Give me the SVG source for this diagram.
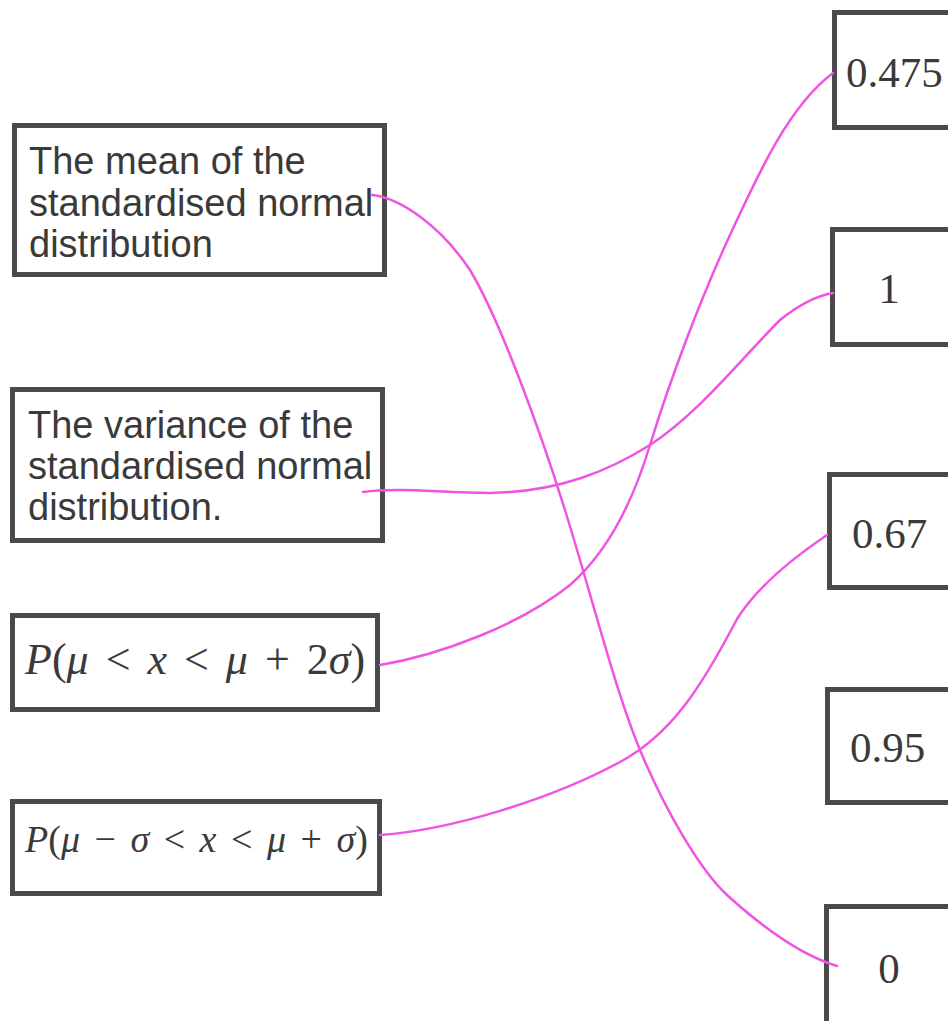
<svg xmlns="http://www.w3.org/2000/svg" width="948" height="1021" viewBox="0 0 948 1021">
<style>
.box{fill:#fff;stroke:#4a4a4a;stroke-width:5}
.lt{font-family:"Liberation Sans",Arial,sans-serif;font-size:38px;fill:#3a3a3a}
.mt{font-family:"Liberation Serif","Times New Roman",serif;fill:#3a3a3a}
.rt{font-family:"Liberation Serif","Times New Roman",serif;font-size:43px;fill:#3a3a3a}
.i{font-style:italic}
.c{fill:none;stroke:#ef55e2;stroke-width:2.5;stroke-linecap:round}
</style>
<rect width="948" height="1021" fill="#fff"/>
<g id="n-mean">
<rect class="box" x="14.5" y="125.5" width="370" height="149"/>
<text class="lt" x="29" y="174">The mean of the</text>
<text class="lt" x="29" y="216">standardised normal</text>
<text class="lt" x="29" y="257">distribution</text>
</g>
<g id="n-variance">
<rect class="box" x="12.5" y="389.5" width="370" height="151"/>
<text class="lt" x="28" y="438">The variance of the</text>
<text class="lt" x="28" y="479">standardised normal</text>
<text class="lt" x="28" y="520">distribution.</text>
</g>
<g id="n-p2sigma">
<rect class="box" x="12.5" y="615.5" width="365" height="94"/>
<text class="mt" x="25" y="674" font-size="44" word-spacing="6"><tspan class="i">P</tspan>(<tspan class="i">μ</tspan> &lt; <tspan class="i">x</tspan> &lt; <tspan class="i">μ</tspan> + 2<tspan class="i">σ</tspan>)</text>
</g>
<g id="n-p1sigma">
<rect class="box" x="12.5" y="801.5" width="367" height="92"/>
<text class="mt" x="25" y="852" font-size="38" word-spacing="5"><tspan class="i">P</tspan>(<tspan class="i">μ</tspan> − <tspan class="i">σ</tspan> &lt; <tspan class="i">x</tspan> &lt; <tspan class="i">μ</tspan> + <tspan class="i">σ</tspan>)</text>
</g>
<g id="n-0475">
<rect class="box" x="834.5" y="12.5" width="140" height="115"/>
<text class="rt" x="846" y="87">0.475</text>
</g>
<g id="n-1">
<rect class="box" x="832.5" y="229.5" width="140" height="115"/>
<text class="rt" x="889" y="303" text-anchor="middle">1</text>
</g>
<g id="n-067">
<rect class="box" x="829.5" y="474.5" width="140" height="113"/>
<text class="rt" x="852" y="548">0.67</text>
</g>
<g id="n-095">
<rect class="box" x="827.5" y="689.5" width="140" height="113"/>
<text class="rt" x="850" y="762">0.95</text>
</g>
<g id="n-0">
<rect class="box" x="826.5" y="906.5" width="140" height="140"/>
<text class="rt" x="889" y="983" text-anchor="middle">0</text>
</g>
<g id="connectors">
<path class="c" d="M372,195 C400,198 440,225 470,270 C500,320 540,430 565,510 C590,590 615,690 640,750 C665,810 700,870 727,895 C760,925 800,955 837,966"/>
<path class="c" stroke-width="3" d="M363,492 C400,487 440,493 490,493 C560,492 610,470 650,445 C700,412 740,360 780,320 C795,308 815,296 833,293"/>
<path class="c" d="M380,665 C440,655 520,625 570,585 C610,550 635,495 650,445 C670,380 700,300 730,235 C760,170 790,105 833,73"/>
<path class="c" d="M380,835 C450,830 550,800 620,762 C670,735 700,690 737,619 C755,590 790,560 827,535"/>
</g>
</svg>
